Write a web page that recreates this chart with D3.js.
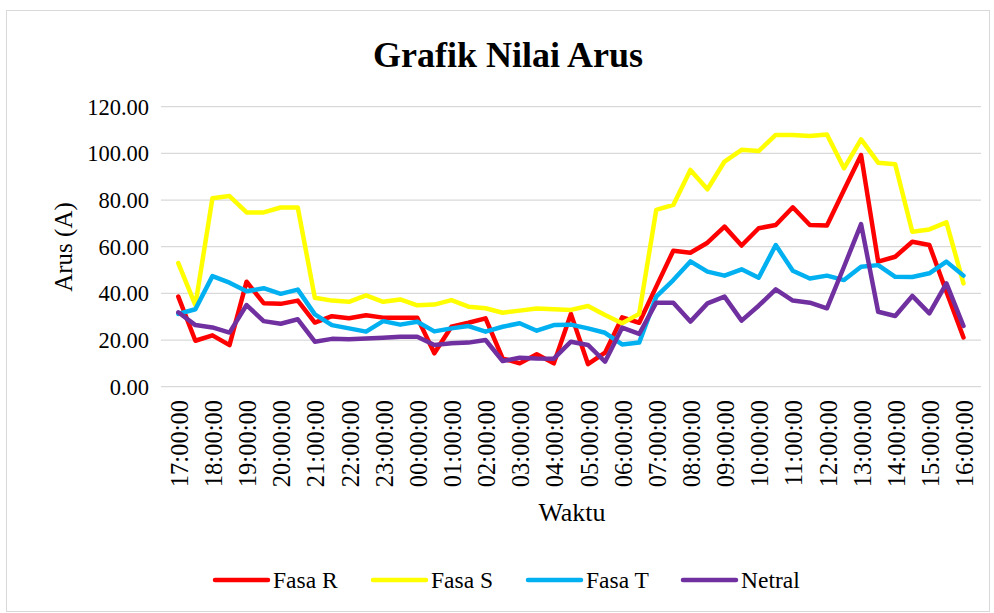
<!DOCTYPE html>
<html>
<head>
<meta charset="utf-8">
<script src="https://cdn.jsdelivr.net/npm/d3@7"></script>
<style>
  body { margin: 0; background: #fff; }
  text { font-family: "Liberation Serif", "Times New Roman", serif; fill: #000; }
</style>
</head>
<body>
<div id="viz"></div>
<script>
const width = 994;
const height = 613;

// half-hourly samples, 17:00 -> 16:00 next day
const times = [
  "17:00:00","17:30:00","18:00:00","18:30:00","19:00:00","19:30:00","20:00:00","20:30:00",
  "21:00:00","21:30:00","22:00:00","22:30:00","23:00:00","23:30:00","00:00:00","00:30:00",
  "01:00:00","01:30:00","02:00:00","02:30:00","03:00:00","03:30:00","04:00:00","04:30:00",
  "05:00:00","05:30:00","06:00:00","06:30:00","07:00:00","07:30:00","08:00:00","08:30:00",
  "09:00:00","09:30:00","10:00:00","10:30:00","11:00:00","11:30:00","12:00:00","12:30:00",
  "13:00:00","13:30:00","14:00:00","14:30:00","15:00:00","15:30:00","16:00:00"
];

const fasaR = [38.6,19.7,22.0,17.8,45.0,35.8,35.5,36.9,27.5,30.2,29.3,30.6,29.6,29.6,29.6,14.3,
  25.7,27.4,29.3,12.1,10.0,13.9,10.0,31.2,9.7,14.6,29.7,27.4,42.9,58.3,57.4,61.7,
  68.6,60.5,67.9,69.3,76.9,69.3,69.1,84.3,99.3,53.6,55.7,62.1,60.7,40.7,21.1];

const fasaS = [53.0,35.0,80.8,81.7,74.7,74.7,76.8,76.8,38.1,36.9,36.4,39.1,36.4,37.4,34.9,35.2,
  37.1,34.3,33.6,31.7,32.6,33.5,33.2,32.9,34.6,30.7,27.2,31.2,75.8,77.9,92.9,84.6,
  96.5,101.5,101.0,107.9,107.9,107.4,108.1,93.6,106.0,96.0,95.3,66.4,67.4,70.4,44.3];

const fasaT = [31.2,33.2,47.4,44.6,40.9,42.2,39.8,41.6,31.0,26.4,25.0,23.6,28.1,26.6,27.8,23.7,
  25.0,26.0,23.6,25.7,27.2,24.0,26.4,26.6,25.0,23.1,18.1,18.9,38.6,45.7,53.7,49.3,
  47.6,50.3,46.7,60.7,49.7,46.4,47.6,45.7,51.4,52.1,47.1,47.0,48.6,53.6,47.6];

const netral = [31.9,26.4,25.4,23.2,35.0,28.1,27.0,28.9,19.3,20.5,20.3,20.7,21.0,21.4,21.4,17.9,
  18.6,18.9,20.0,11.0,12.4,12.1,12.0,19.3,17.9,10.7,25.3,22.6,36.0,36.0,27.9,35.7,
  38.6,28.3,34.7,41.7,36.9,36.0,33.6,51.4,69.7,32.1,30.3,38.9,31.4,44.3,26.0];

const seriesNames = ["Fasa R", "Fasa S", "Fasa T", "Netral"];
const seriesColors = ["#FF0000", "#FFFF00", "#00B0F0", "#7030A0"];
const yTicks = [0, 20, 40, 60, 80, 100, 120];

const series = [fasaR, fasaS, fasaT, netral].map((vals, i) => ({
  name: seriesNames[i],
  color: seriesColors[i],
  values: vals
}));

const svg = d3.select("#viz").append("svg")
  .attr("width", width)
  .attr("height", height);

// chart frame
svg.append("rect")
  .attr("x", 6.5).attr("y", 10.5)
  .attr("width", 983).attr("height", 601)
  .attr("fill", "#fff")
  .attr("stroke", "#D9D9D9")
  .attr("stroke-width", 1);

const x = d3.scalePoint()
  .domain(times)
  .range([178.3, 963.5]);

const y = d3.scaleLinear()
  .domain([0, 120])
  .range([386.7, 106.7]);

// gridlines
svg.append("g")
  .selectAll("line")
  .data(yTicks)
  .join("line")
  .attr("x1", 161).attr("x2", 981)
  .attr("y1", d => y(d)).attr("y2", d => y(d))
  .attr("stroke", "#D9D9D9")
  .attr("stroke-width", 1.3);

// y tick labels
svg.append("g")
  .selectAll("text")
  .data(yTicks)
  .join("text")
  .attr("x", 149)
  .attr("y", d => y(d))
  .attr("dy", "0.35em")
  .attr("text-anchor", "end")
  .style("font-size", "22.5px")
  .text(d => d3.format(".2f")(d));

// x tick labels, hourly only
const hourly = times.filter(t => t.endsWith(":00:00"));
svg.append("g")
  .selectAll("text")
  .data(hourly)
  .join("text")
  .attr("transform", d => "translate(" + (x(d) + 1) + ",400) rotate(-90)")
  .attr("dy", "0.35em")
  .attr("text-anchor", "end")
  .style("font-size", "24.5px")
  .text(d => d);

// lines
const line = d3.line()
  .x((d, i) => x(times[i]))
  .y(d => y(d));

svg.append("g")
  .selectAll("path")
  .data(series)
  .join("path")
  .attr("d", d => line(d.values))
  .attr("fill", "none")
  .attr("stroke", d => d.color)
  .attr("stroke-width", 4.5)
  .attr("stroke-linejoin", "round")
  .attr("stroke-linecap", "round");

// title
svg.append("text")
  .attr("x", 508)
  .attr("y", 67)
  .attr("text-anchor", "middle")
  .style("font-size", "36px")
  .style("font-weight", "bold")
  .text("Grafik Nilai Arus");

// axis titles
svg.append("text")
  .attr("x", 572)
  .attr("y", 521)
  .attr("text-anchor", "middle")
  .style("font-size", "26px")
  .text("Waktu");

svg.append("text")
  .attr("transform", "translate(72,247) rotate(-90)")
  .attr("text-anchor", "middle")
  .style("font-size", "25px")
  .text("Arus (A)");

// legend
const legendX = [215, 373, 528, 683];
const legend = svg.append("g")
  .selectAll("g")
  .data(series)
  .join("g")
  .attr("transform", (d, i) => "translate(" + legendX[i] + ",580)");

legend.append("line")
  .attr("x1", 0).attr("x2", 53)
  .attr("stroke", d => d.color)
  .attr("stroke-width", 4.5)
  .attr("stroke-linecap", "round");

legend.append("text")
  .attr("x", 58)
  .attr("dy", "0.35em")
  .style("font-size", "23.5px")
  .text(d => d.name);
</script>
</body>
</html>
